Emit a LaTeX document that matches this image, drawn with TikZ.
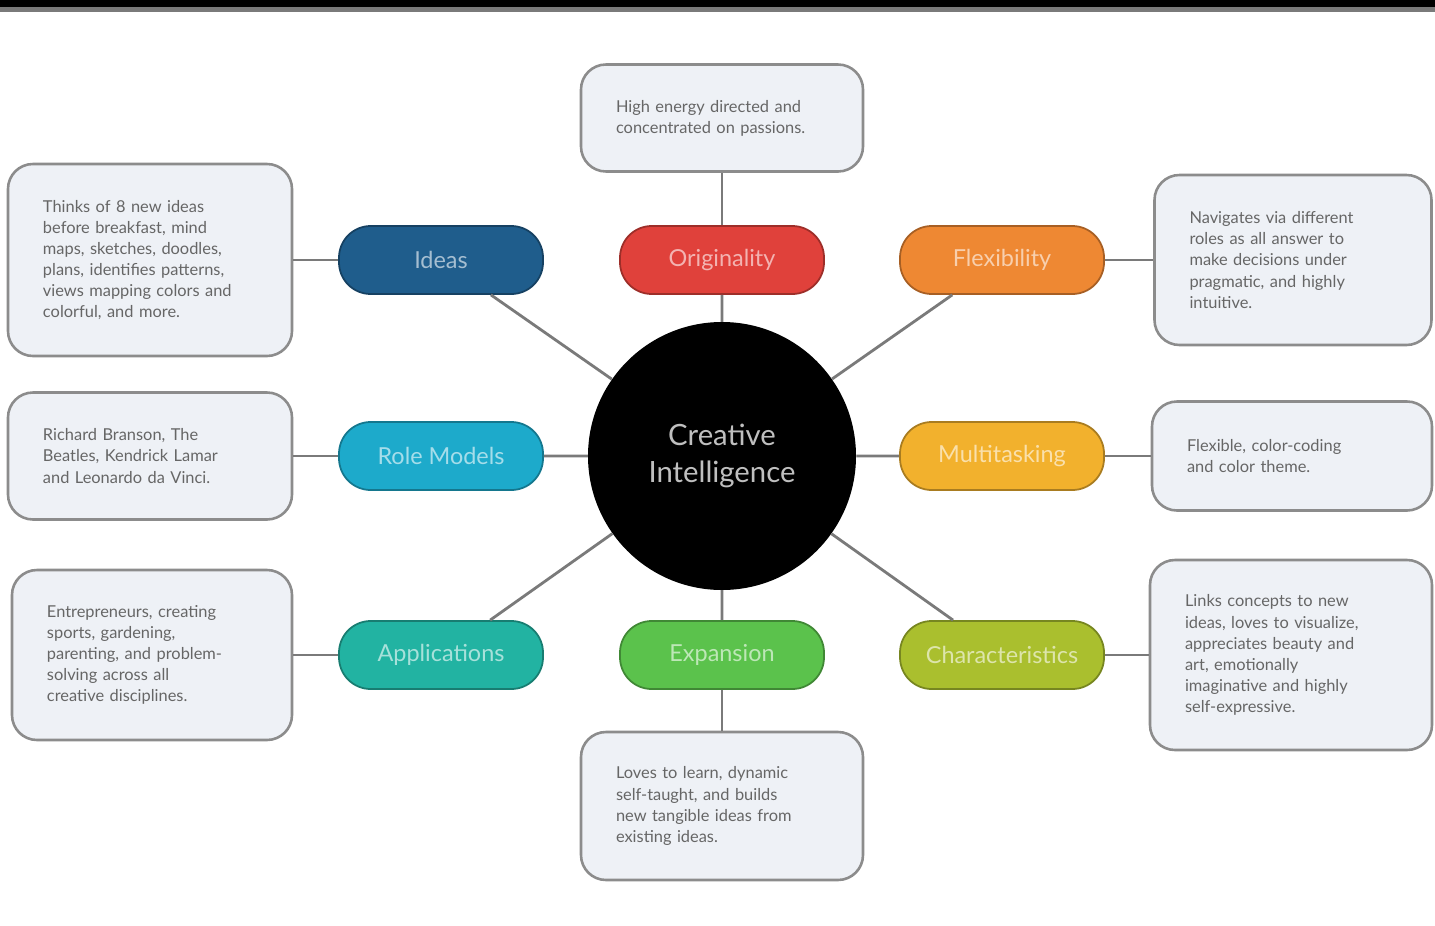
\documentclass[tikz,border=0pt]{standalone}
\usepackage{fontspec}
\setmainfont{Lato}
\definecolor{ideasblue}{HTML}{1F5D8C}
\definecolor{origred}{HTML}{E0413B}
\definecolor{flexorange}{HTML}{EE8833}
\definecolor{rolecyan}{HTML}{1DAACB}
\definecolor{multiyellow}{HTML}{F2B12D}
\definecolor{appteal}{HTML}{22B3A2}
\definecolor{expgreen}{HTML}{5BC24C}
\definecolor{charlime}{HTML}{AABF2E}
\definecolor{boxfill}{HTML}{EEF1F6}
\definecolor{boxline}{HTML}{8C8C8C}
\definecolor{linkgray}{HTML}{7A7A7A}
\newcommand{\boxpad}{1.05cm}

\begin{document}
\begin{tikzpicture}[x=0.03cm,y=-0.03cm,
  pill/.style={draw=#1!70!black, fill=#1, line width=1.5pt, rounded corners=0.95cm,
    minimum width=6.12cm, minimum height=2.04cm, inner sep=0pt,
    text=#1!40!white, font=\fontsize{20}{24}\selectfont},
  descbox/.style={draw=boxline, fill=boxfill, line width=2.2pt, rounded corners=0.75cm,
    align=left, inner xsep=\boxpad, inner ysep=0pt, text=black!60,
    font=\fontsize{14}{18}\selectfont},
  link/.style={draw=linkgray, line width=2.4pt}]

      \useasboundingbox (0,0) rectangle (1435,925);

          %%  top rule %%
      \fill[black] (0,0) rectangle (1435,7);
      \fill[linkgray] (0,7) rectangle (1435,12);

          %%  the hub %%
      \node (ci) at (722,456) [circle, fill=black, minimum size=8.04cm, inner sep=0pt,
        align=center, text=white!75!black, font=\fontsize{25}{32}\selectfont]
        {Creative\\Intelligence};

          %%  the eight pills %%
      \foreach \nm/\x/\y/\col/\lbl in
        {ideas/441/260/ideasblue/Ideas, orig/722/260/origred/Originality,
         flex/1002/260/flexorange/Flexibility, role/441/456/rolecyan/Role Models,
         multi/1002/456/multiyellow/Multitasking, apps/441/655/appteal/Applications,
         expan/722/655/expgreen/Expansion, chars/1002/655/charlime/Characteristics}
      { \node (\nm) at (\x,\y) [pill=\col] {\lbl};}

          %%  the notes %%
      \node (ideasbox) at (150,260) [descbox, text width=8.52cm-2*\boxpad, minimum height=5.76cm]
        {Thinks of 8 new ideas\\before breakfast, mind\\maps, sketches, doodles,\\plans, identifies patterns,\\views mapping colors and\\colorful, and more.};
      \node (rolebox) at (150,456) [descbox, text width=8.52cm-2*\boxpad, minimum height=3.81cm]
        {Richard Branson, The\\Beatles, Kendrick Lamar\\and Leonardo da Vinci.};
      \node (appsbox) at (152,655) [descbox, text width=8.4cm-2*\boxpad, minimum height=5.1cm]
        {Entrepreneurs, creating\\sports, gardening,\\parenting, and problem-\\solving across all\\creative disciplines.};
      \node (origbox) at (722,118) [descbox, text width=8.46cm-2*\boxpad, minimum height=3.21cm]
        {High energy directed and\\concentrated on passions.};
      \node (flexbox) at (1293,260) [descbox, text width=8.31cm-2*\boxpad, minimum height=5.1cm]
        {Navigates via different\\roles as all answer to\\make decisions under\\pragmatic, and highly\\intuitive.};
      \node (multibox) at (1292,456) [descbox, text width=8.4cm-2*\boxpad, minimum height=3.27cm]
        {Flexible, color-coding\\and color theme.};
      \node (charsbox) at (1291,655) [descbox, text width=8.46cm-2*\boxpad, minimum height=5.7cm]
        {Links concepts to new\\ideas, loves to visualize,\\appreciates beauty and\\art, emotionally\\imaginative and highly\\self-expressive.};
      \node (expanbox) at (722,806) [descbox, text width=8.46cm-2*\boxpad, minimum height=4.44cm]
        {Loves to learn, dynamic\\self-taught, and builds\\new tangible ideas from\\existing ideas.};

          %%  connectors %%
      \draw[link] (ci) to (ideas) (ci) to (orig) (ci) to (flex) (ci) to (role)
        (ci) to (multi) (ci) to (apps) (ci) to (expan) (ci) to (chars);
      \draw[link] (ideas) to (ideasbox) (orig) to (origbox) (flex) to (flexbox)
        (role) to (rolebox) (multi) to (multibox) (apps) to (appsbox)
        (expan) to (expanbox) (chars) to (charsbox);

        \end{tikzpicture}
\end{document}
